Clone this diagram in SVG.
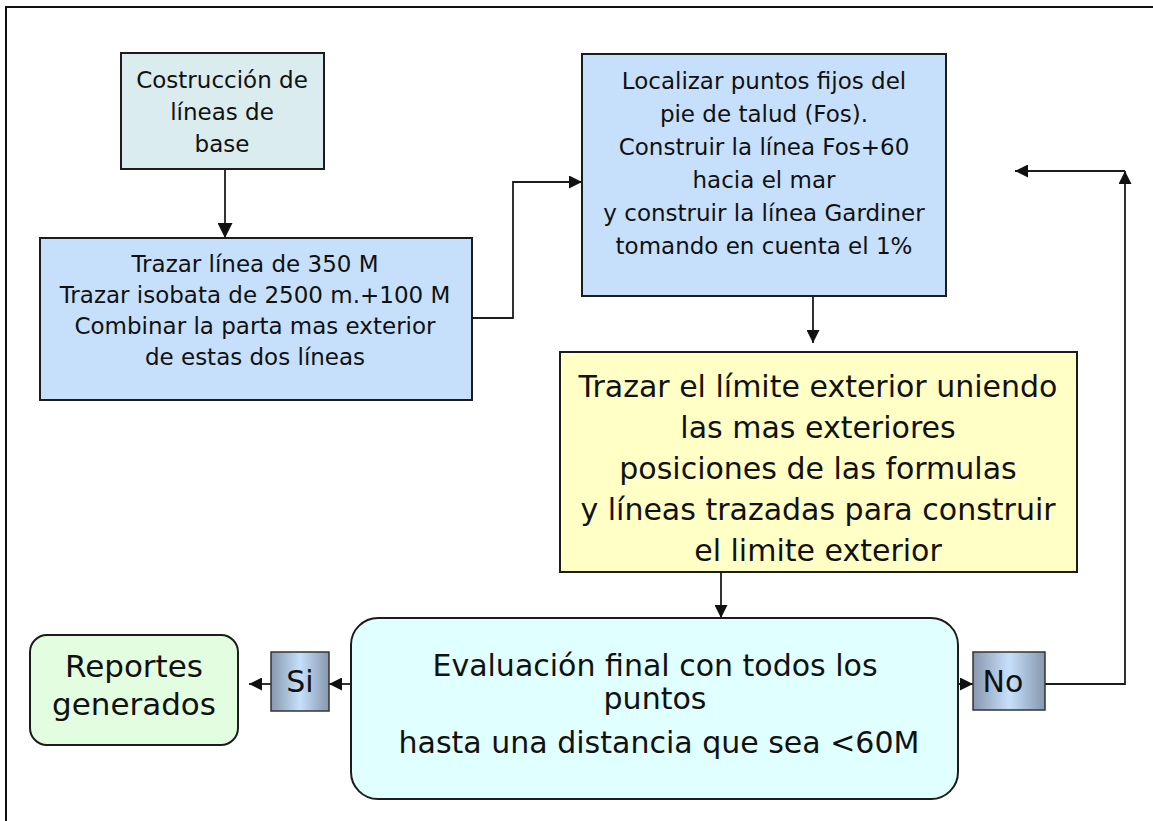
<svg xmlns="http://www.w3.org/2000/svg" width="1153" height="821" viewBox="0 0 1153 821">
<defs>
<style>
.box{stroke:#1c1c1c;stroke-width:2}
.t{font-family:"DejaVu Sans","Liberation Sans",sans-serif;fill:#111;text-anchor:middle}
.s23{font-size:23px}
.s30{font-size:30px}
.s31{font-size:31px}
.c{fill:none;stroke:#1c1c1c;stroke-width:1.8}
</style>
<marker id="ah" viewBox="0 0 10 10" refX="10" refY="5" markerWidth="15" markerHeight="13" markerUnits="userSpaceOnUse" orient="auto">
<path d="M0,0 L10,5 L0,10 z" fill="#111"/>
</marker>
<marker id="ahb" viewBox="0 0 10 10" refX="10" refY="5" markerWidth="17" markerHeight="15" markerUnits="userSpaceOnUse" orient="auto">
<path d="M0,0 L10,5 L0,10 z" fill="#111"/>
</marker>
<linearGradient id="g" x1="0" y1="0" x2="1" y2="0">
<stop offset="0" stop-color="#8797ae"/>
<stop offset="0.5" stop-color="#c6e0fb"/>
<stop offset="1" stop-color="#8797ae"/>
</linearGradient>
</defs>
<rect width="1153" height="821" fill="#fff"/>
<path d="M6,821 V7 H1153" fill="none" stroke="#111" stroke-width="2"/>

<g id="connectors">
<line class="c" x1="225" y1="169" x2="225" y2="238" stroke-width="3" marker-end="url(#ahb)"/>
<polyline class="c" points="472,318 513,318 513,182 582,182" marker-end="url(#ah)"/>
<line class="c" x1="813" y1="296" x2="813" y2="343" marker-end="url(#ah)"/>
<line class="c" x1="721" y1="572" x2="721" y2="618" marker-end="url(#ah)"/>
<line class="c" x1="351" y1="684" x2="329" y2="684" marker-end="url(#ah)"/>
<line class="c" x1="271" y1="684" x2="249" y2="684" marker-end="url(#ah)"/>
<line class="c" x1="938" y1="684" x2="973" y2="684" marker-end="url(#ah)"/>
<polyline class="c" points="1029,684 1125,684 1125,171" marker-end="url(#ah)"/>
<line class="c" x1="1125" y1="171" x2="1015" y2="171" marker-end="url(#ah)"/>
</g>

<g id="n1">
<rect class="box" x="121" y="53" width="203" height="116" fill="#daecee"/>
<text class="t s23" x="222" y="88">Costrucción de</text>
<text class="t s23" x="222" y="120">líneas de</text>
<text class="t s23" x="222" y="152">base</text>
</g>

<g id="n2">
<rect class="box" x="40" y="238" width="432" height="162" fill="#c6e0fb"/>
<text class="t s23" x="255" y="272">Trazar línea de 350 M</text>
<text class="t s23" x="255" y="303">Trazar isobata de 2500 m.+100 M</text>
<text class="t s23" x="255" y="334">Combinar la parta mas exterior</text>
<text class="t s23" x="255" y="365">de estas dos líneas</text>
</g>

<g id="n3">
<rect class="box" x="582" y="54" width="364" height="242" fill="#c6e0fb"/>
<text class="t s23" x="764" y="89">Localizar puntos fijos del</text>
<text class="t s23" x="764" y="122">pie de talud (Fos).</text>
<text class="t s23" x="764" y="155">Construir la línea Fos+60</text>
<text class="t s23" x="764" y="188">hacia el mar</text>
<text class="t s23" x="764" y="221">y construir la línea Gardiner</text>
<text class="t s23" x="764" y="254">tomando en cuenta el 1%</text>
</g>

<g id="n4">
<rect class="box" x="560" y="352" width="517" height="220" fill="#ffffc6"/>
<text class="t s30" x="818" y="397">Trazar el límite exterior uniendo</text>
<text class="t s30" x="818" y="438">las mas exteriores</text>
<text class="t s30" x="818" y="479">posiciones de las formulas</text>
<text class="t s30" x="818" y="520">y líneas trazadas para construir</text>
<text class="t s30" x="818" y="561">el limite exterior</text>
</g>

<g id="n5">
<rect class="box" x="351" y="618" width="607" height="181" rx="27" ry="27" fill="#e0ffff"/>
<text class="t s30" x="655" y="676">Evaluación final con todos los</text>
<text class="t s30" x="655" y="709">puntos</text>
<text class="t s30" x="659" y="753">hasta una distancia que sea &lt;60M</text>
</g>

<g id="n6">
<rect class="box" x="30" y="635" width="208" height="110" rx="17" ry="17" fill="#e3fde0"/>
<text class="t s31" x="134" y="677">Reportes</text>
<text class="t s31" x="134" y="715">generados</text>
</g>

<g id="n7">
<rect x="271" y="652" width="58" height="59" fill="url(#g)" stroke="#333" stroke-width="1.5"/>
<text class="t s30" x="300" y="692">Si</text>
</g>

<g id="n8">
<rect x="973" y="652" width="72" height="58" fill="url(#g)" stroke="#333" stroke-width="1.5"/>
<text class="t s30" x="1003" y="692">No</text>
</g>
</svg>
